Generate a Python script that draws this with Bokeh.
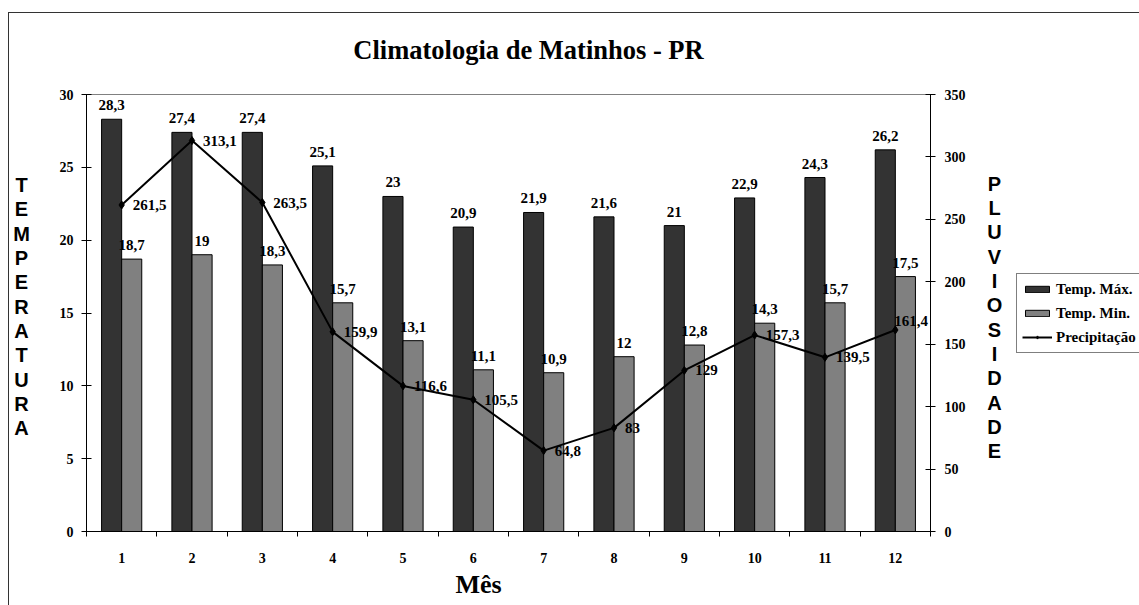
import numpy as np
from bokeh.plotting import figure
from bokeh.layouts import row, column
from bokeh.models import (ColumnDataSource, Range1d, LinearAxis, FixedTicker, LabelSet,
                          Label, Title, Legend, LegendItem)
from bokeh.transform import dodge
from bokeh.core.properties import value
from bokeh.embed import file_html
from bokeh.resources import INLINE

# ---------------- data ----------------
months = [1, 2, 3, 4, 5, 6, 7, 8, 9, 10, 11, 12]
month_labels = ["1", "2", "3", "4", "5", "6", "7", "8", "9", "10", "11", "12"]
temp_max = [28.3, 27.4, 27.4, 25.1, 23.0, 20.9, 21.9, 21.6, 21.0, 22.9, 24.3, 26.2]
temp_min = [18.7, 19.0, 18.3, 15.7, 13.1, 11.1, 10.9, 12.0, 12.8, 14.3, 15.7, 17.5]
precip = [261.5, 313.1, 263.5, 159.9, 116.6, 105.5, 64.8, 83.0, 129.0, 157.3, 139.5, 161.4]
temp_ticks = [0, 5, 10, 15, 20, 25, 30]
precip_ticks = [0, 50, 100, 150, 200, 250, 300, 350]

title_text = "Climatologia de Matinhos - PR"
x_title = "Mês"
left_title = "TEMPERATURA"
right_title = "PLUVIOSIDADE"
series_names = ["Temp. Máx.", "Temp. Min.", "Precipitação"]


def fmt(v):
    return ("%g" % v).replace(".", ",")


# ---------------- layout constants (page px) ----------------
OX, OY, BOT = 8, 12, 605            # chart origin on the page, bottom of window
YT = 80                             # boundary between title strip and plot row
XA, XB, XC = 48, 975, 1138          # panel boundaries on the page
FL, FR, FT, FB = 85, 929, 93, 530   # plot-area edges on page
SERIF = "Liberation Serif"
SANS = "Liberation Sans"
DARK, LIGHT = "#333333", "#808080"


def panel(x0, x1, y0, y1):
    f = figure(width=x1 - x0, height=y1 - y0, x_range=Range1d(x0, x1),
               y_range=Range1d(0, y1 - y0), output_backend="svg", toolbar_location=None,
               x_axis_location=None, y_axis_location=None, min_border=0)
    f.xgrid.visible = False
    f.ygrid.visible = False
    f.outline_line_color = None
    f.background_fill_color = "white"
    f.border_fill_color = "white"
    return f, (lambda py: y1 - py)


# ---------------- title strip ----------------
tf, tfy = panel(OX, XC, OY, YT)
tf.add_layout(Label(x=527, y=tfy(48), text=title_text, text_align="center",
                    text_baseline="alphabetic", text_font=SERIF, text_font_style="bold",
                    text_font_size="26.5px", text_color="black"))

# ---------------- main plot ----------------
p = figure(width=XB - XA, height=BOT - YT, x_range=Range1d(0.5, 12.5), y_range=Range1d(0, 30),
           output_backend="svg", toolbar_location=None,
           min_border_left=FL - XA, min_border_right=XB - FR,
           min_border_top=FT - YT, min_border_bottom=BOT - FB)
p.extra_y_ranges = {"pluv": Range1d(0, 350)}
p.xgrid.visible = False
p.ygrid.visible = False
p.outline_line_color = "#808080"
p.outline_line_width = 1
p.background_fill_color = "white"
p.border_fill_color = "white"

tick_kw = dict(major_label_text_font=SERIF, major_label_text_font_style="bold",
               major_label_text_font_size="14px", major_label_text_color="black")

# left axis
ya = p.yaxis[0]
ya.ticker = FixedTicker(ticks=temp_ticks)
ya.major_tick_in = 5
ya.major_tick_out = 5
ya.minor_tick_line_color = None
ya.axis_line_color = "black"
ya.major_tick_line_color = "black"
ya.major_label_standoff = 8
for k, v in tick_kw.items():
    setattr(ya, k, v)

# right axis
ra = LinearAxis(y_range_name="pluv", ticker=FixedTicker(ticks=precip_ticks))
ra.major_tick_in = 5
ra.major_tick_out = 5
ra.minor_tick_line_color = None
ra.axis_line_color = "black"
ra.major_label_standoff = 9
for k, v in tick_kw.items():
    setattr(ra, k, v)
p.add_layout(ra, "right")

# x axis
xa = p.xaxis[0]
xa.ticker = FixedTicker(ticks=months, minor_ticks=[m - 0.5 for m in months] + [12.5])
xa.major_label_overrides = {m: lab for m, lab in zip(months, month_labels)}
xa.major_tick_in = 0
xa.major_tick_out = 0
xa.minor_tick_in = 0
xa.minor_tick_out = 5
xa.minor_tick_line_color = "black"
xa.axis_line_color = "black"
xa.major_label_standoff = 16
for k, v in tick_kw.items():
    setattr(xa, k, v)

p.add_layout(Title(text=x_title, align="left", offset=369, standoff=4,
                   text_font=SERIF, text_font_style="bold", text_font_size="26px",
                   text_color="black"), "below")

src = ColumnDataSource(dict(
    month=months, tmax=temp_max, tmin=temp_min, precip=precip,
    tmax_lbl=[fmt(v) for v in temp_max],
    tmin_lbl=[fmt(v) for v in temp_min],
    precip_lbl=[fmt(v) for v in precip],
))
# label offsets for the rainfall labels (last one kept inside the plot area)
src.data["px_off"] = [11] * (len(months) - 1) + [-1]
src.data["py_off"] = [0] * (len(months) - 1) + [9]

BW = 1 / 3.5
bar_max = dict(top="tmax", width=BW, fill_color=DARK, line_color="black", line_width=1)
bar_min = dict(top="tmin", width=BW, fill_color=LIGHT, line_color="black", line_width=1)
line_kw = dict(line_color="black", line_width=2)
pts_kw = dict(marker="diamond", size=8, fill_color="black", line_color="black")

p.vbar(x=dodge("month", -BW / 2), source=src, **bar_max)
p.vbar(x=dodge("month", BW / 2), source=src, **bar_min)
p.line(x="month", y="precip", y_range_name="pluv", source=src, **line_kw)
p.scatter(x="month", y="precip", y_range_name="pluv", source=src, **pts_kw)

lab_kw = dict(text_font=value(SERIF), text_font_style="bold", text_font_size="15px",
              text_color="black")
p.add_layout(LabelSet(x=dodge("month", -BW / 2), y="tmax", text="tmax_lbl",
                      source=src, text_align="center", text_baseline="alphabetic",
                      y_offset=9, **lab_kw))
p.add_layout(LabelSet(x=dodge("month", BW / 2), y="tmin", text="tmin_lbl",
                      source=src, text_align="center", text_baseline="alphabetic",
                      y_offset=9, **lab_kw))
p.add_layout(LabelSet(x="month", y="precip", text="precip_lbl", y_range_name="pluv",
                      source=src, text_align="left", text_baseline="middle",
                      x_offset="px_off", y_offset="py_off", **lab_kw))

# ---------------- left panel: vertical axis title ----------------
lp, lfy = panel(OX, XA, YT, BOT)
lp.add_layout(Label(x=20, y=lfy(335), text="\n".join(left_title), text_align="center",
                    text_baseline="middle", text_font=SANS, text_font_style="bold",
                    text_font_size="20px", text_line_height=1.106, text_color="black"))

# ---------------- right panel: axis title + legend ----------------
q, qfy = panel(XB, XC, YT, BOT)
q.add_layout(Label(x=993, y=qfy(348), text="\n".join(right_title), text_align="center",
                   text_baseline="middle", text_font=SANS, text_font_style="bold",
                   text_font_size="20px", text_line_height=1.106, text_color="black"))
# legend keys: renderers with the series styles and no drawable points
key_src = ColumnDataSource(dict(x=np.array([np.nan]), y=np.array([np.nan])))
g_max = q.vbar(x="x", source=key_src, **dict(bar_max, top="y"))
g_min = q.vbar(x="x", source=key_src, **dict(bar_min, top="y"))
g_line = q.line(x="x", y="y", source=key_src, **line_kw)
g_pts = q.scatter(x="x", y="y", source=key_src, **pts_kw)

legend = Legend(items=[LegendItem(label=series_names[0], renderers=[g_max]),
                       LegendItem(label=series_names[1], renderers=[g_min]),
                       LegendItem(label=series_names[2], renderers=[g_line, g_pts])],
                location=(1015 - XB, qfy(349) - 78), orientation="vertical",
                border_line_color="black", border_line_width=1,
                background_fill_color="white", background_fill_alpha=1,
                padding=5, spacing=4, margin=0, glyph_width=30, glyph_height=8,
                label_height=20, label_standoff=4,
                label_text_font=SERIF, label_text_font_style="bold",
                label_text_font_size="15px", label_text_color="black")
q.add_layout(legend)

layout = column(tf, row(lp, p, q), margin=(OY, 0, 0, OX),
                styles={"border-left": "1px solid #333333", "border-top": "1px solid #333333"})

open("out.html", "w").write(file_html(layout, INLINE))
